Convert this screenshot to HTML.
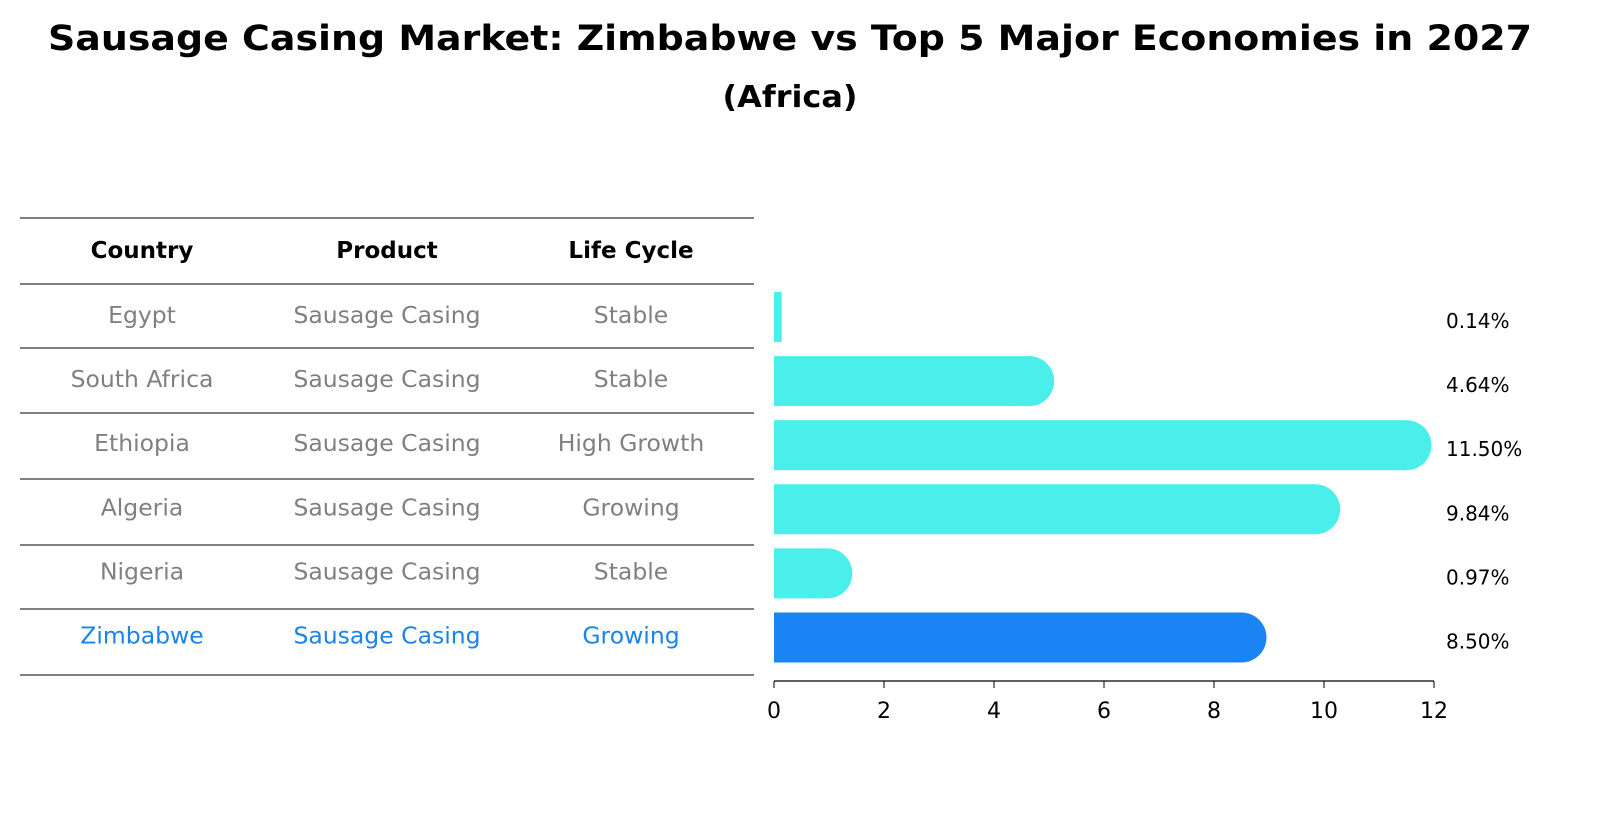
<!DOCTYPE html>
<html><head><meta charset="utf-8"><style>
body{margin:0;background:#fff;width:1604px;height:823px;overflow:hidden;font-family:"Liberation Sans","DejaVu Sans",sans-serif}
</style></head><body>
<svg width="1604" height="823" xmlns="http://www.w3.org/2000/svg" font-family="DejaVu Sans, Liberation Sans, sans-serif">
<text x="790" y="50" text-anchor="middle" font-size="35" font-weight="bold" textLength="1484" lengthAdjust="spacingAndGlyphs">Sausage Casing Market: Zimbabwe vs Top 5 Major Economies in 2027</text>
<text x="790" y="107" text-anchor="middle" font-size="30" font-weight="bold" textLength="135" lengthAdjust="spacingAndGlyphs">(Africa)</text>
<g id="table"></g>
<g id="bars"></g>
<g id="axis"></g>
</svg>
<script>
const countries=["Egypt","South Africa","Ethiopia","Algeria","Nigeria","Zimbabwe"];
const products=["Sausage Casing","Sausage Casing","Sausage Casing","Sausage Casing","Sausage Casing","Sausage Casing"];
const lifeCycles=["Stable","Stable","High Growth","Growing","Stable","Growing"];
const values=[0.14,4.64,11.50,9.84,0.97,8.50];
const labels=["0.14%","4.64%","11.50%","9.84%","0.97%","8.50%"];
const ticks=[0,2,4,6,8,10,12];
const NS="http://www.w3.org/2000/svg";
function mk(t,a,p){const e=document.createElementNS(NS,t);for(const k in a)e.setAttribute(k,a[k]);p.appendChild(e);return e;}
const x0=774,sc=55,rowY=i=>317+i*64.1,barH=50,r=25;
const xs=v=>x0+v*sc;
const tbl=document.getElementById('table');
const lineYs=[218,284,348,413,479,545,609,675];
lineYs.forEach(y=>{const l=mk('line',{x1:20,x2:754,y1:y,y2:y,stroke:'#000','stroke-width':1},tbl);

});
const cx=[142,387,631];
["Country","Product","Life Cycle"].forEach((h,j)=>{const t=mk('text',{x:cx[j],y:258,'text-anchor':'middle','font-size':23,'font-weight':'bold'},tbl);t.textContent=h;

});
countries.forEach((c,i)=>{const y=rowY(i)+6;const col=i===countries.length-1?'#1a84e8':'#808080';
[c,products[i],lifeCycles[i]].forEach((s,j)=>{const t=mk('text',{x:cx[j],y:y,'text-anchor':'middle','font-size':23.5,fill:col},tbl);t.textContent=s;

});});
const bars=document.getElementById('bars');
values.forEach((v,i)=>{const col=i===values.length-1?'#1a84f5':'#4aeeea';const cy=rowY(i);
const w=xs(v)-x0;
const g=mk('g',{fill:col},bars);


mk('rect',{x:x0,y:cy-barH/2,width:w,height:barH},g);
if(w>r) mk('circle',{cx:xs(v),cy:cy,r:r},g);
const t=mk('text',{x:1446,y:cy+11,'font-size':20},bars);t.textContent=labels[i];

});
const ax=document.getElementById('axis');
mk('line',{x1:x0,x2:xs(12),y1:681,y2:681,stroke:'#000','stroke-width':1.2},ax);
ticks.forEach(tk=>{mk('line',{x1:xs(tk),x2:xs(tk),y1:681,y2:688,stroke:'#000'},ax);
const t=mk('text',{x:xs(tk),y:718,'text-anchor':'middle','font-size':22},ax);t.textContent=tk;

});
</script>
</body></html>
